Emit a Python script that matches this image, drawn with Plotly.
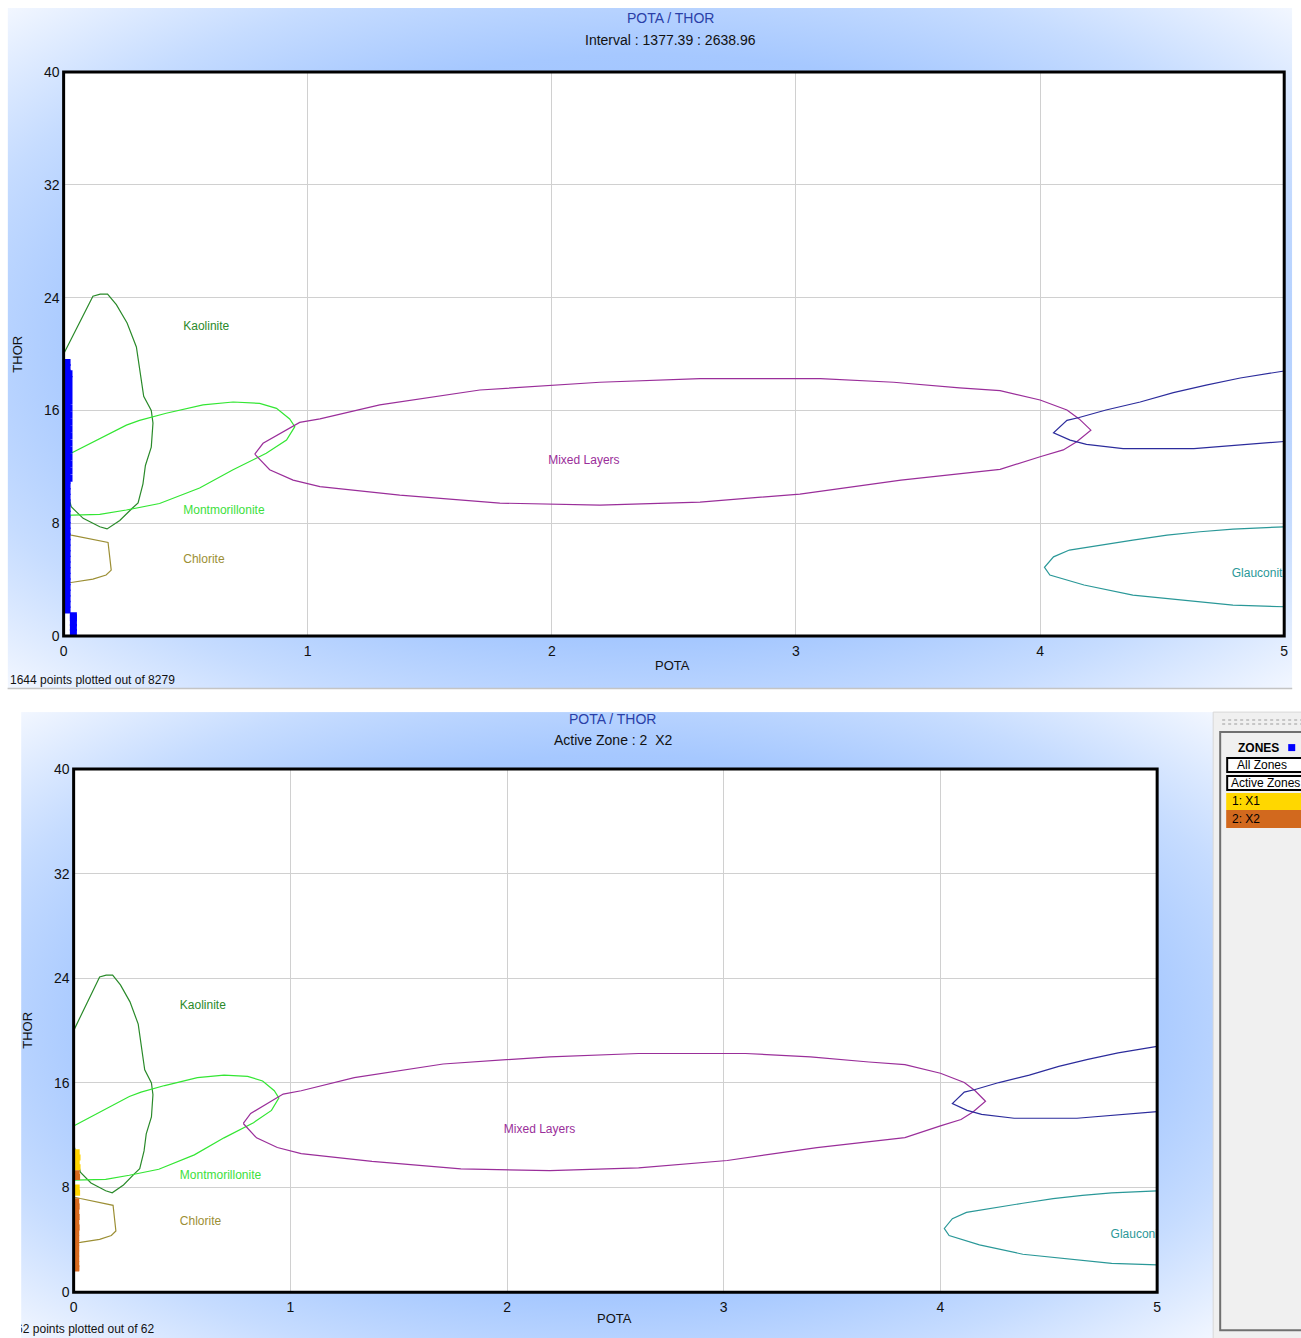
import base64
import plotly.graph_objects as go

# Page-to-figure mapping: positions below are given in screen pixels of the final page
# and converted to figure fractions through the measured offset/scale of the viewer.
SX, OX = 0.9934, 4.4
SY, OY = 0.988, 8.0
W, H = 1306, 1347
FONT = "Liberation Sans, Arial, sans-serif"

# ---- clay-mineral envelopes (POTA, THOR) ----
kaolinite_pota = [0.0, 0.06, 0.12, 0.15, 0.18, 0.216, 0.26, 0.298, 0.311, 0.328, 0.359, 0.366,
                  0.359, 0.335, 0.325, 0.305, 0.28, 0.23, 0.178, 0.148, 0.08, 0.031, 0.004, 0.0]
kaolinite_thor = [20.0, 22.1, 24.1, 24.25, 24.25, 23.5, 22.2, 20.5, 19.0, 17.0, 16.0, 15.1,
                  13.4, 12.1, 10.8, 9.45, 9.05, 8.2, 7.6, 7.75, 8.35, 9.17, 11.06, 11.3]

montmorillonite_pota = [0.0, 0.093, 0.257, 0.311, 0.42, 0.571, 0.694, 0.803, 0.872, 0.926, 0.947,
                        0.913, 0.83, 0.694, 0.557, 0.393, 0.257, 0.148, 0.0]
montmorillonite_thor = [12.7, 13.5, 14.96, 15.3, 15.8, 16.4, 16.6, 16.5, 16.15, 15.4, 14.85,
                        13.9, 12.96, 11.8, 10.5, 9.4, 8.94, 8.63, 8.56]

chlorite_pota = [0.0, 0.031, 0.182, 0.195, 0.174, 0.12, 0.031, 0.0]
chlorite_thor = [7.28, 7.16, 6.64, 4.68, 4.33, 4.04, 3.8, 3.78]

mixed_pota = [0.783, 0.817, 0.967, 1.05, 1.295, 1.705, 2.197, 2.607, 3.1, 3.4, 3.67, 3.836, 4.0,
              4.11, 4.16, 4.208, 4.15, 4.095, 4.0, 3.836, 3.43, 3.016, 2.607, 2.197, 1.787, 1.377,
              1.05, 0.94, 0.844, 0.803, 0.783]
mixed_thor = [12.9, 13.67, 15.15, 15.4, 16.4, 17.45, 18.0, 18.25, 18.25, 18.0, 17.6, 17.4, 16.74,
              16.03, 15.4, 14.6, 13.78, 13.2, 12.72, 11.82, 11.06, 10.07, 9.5, 9.29, 9.43, 10.0,
              10.6, 11.06, 11.8, 12.5, 12.9]

navy_pota = [5.0, 4.82, 4.68, 4.546, 4.41, 4.27, 4.16, 4.11, 4.055, 4.123, 4.19, 4.34, 4.63, 4.79, 4.93, 5.0]
navy_thor = [18.8, 18.3, 17.8, 17.26, 16.6, 16.03, 15.5, 15.3, 14.42, 13.9, 13.6, 13.3, 13.3, 13.5, 13.7, 13.8]

glauconite_pota = [5.0, 4.79, 4.655, 4.52, 4.38, 4.25, 4.12, 4.055, 4.018, 4.04, 4.18, 4.38, 4.6, 4.79, 5.0]
glauconite_thor = [7.75, 7.59, 7.4, 7.16, 6.8, 6.45, 6.1, 5.62, 4.87, 4.33, 3.62, 2.9, 2.55, 2.2, 2.08]

envelope_colors = ["#2a8a2a", "#33e633", "#9c8f35", "#9a2e9a", "#2c2c9c", "#2a9898"]

label_text = ["Kaolinite", "Montmorillonite", "Chlorite", "Mixed Layers", "Glauconite"]
label_pota = [0.49, 0.49, 0.49, 1.985, 4.785]
label_thor = [21.9, 8.9, 5.4, 12.4, 4.4]
label_colors = ["#2a8a2a", "#3ce03c", "#9c8f35", "#9a2e9a", "#2a9898"]

# ---- interval points (all zones) ----
interval_pota = [0.014] * 45 + [0.022] * 16 + [0.04] * 5
interval_thor = [1.85, 2.25, 2.65, 3.05, 3.45, 3.85, 4.25, 4.65, 5.05, 5.45, 5.85, 6.25, 6.65, 7.05,
                 7.45, 7.85, 8.25, 8.65, 9.05, 9.45, 9.85, 10.25, 10.65, 11.05, 11.45, 11.85, 12.25,
                 12.65, 13.05, 13.45, 13.85, 14.25, 14.65, 15.05, 15.45, 15.85, 16.25, 16.65, 17.05,
                 17.45, 17.85, 18.25, 18.65, 19.05, 19.4,
                 11.2, 11.7, 12.2, 12.7, 13.2, 13.7, 14.2, 14.7, 15.2, 15.7, 16.2, 16.7, 17.2, 17.7,
                 18.2, 18.6,
                 0.25, 0.6, 0.95, 1.3, 1.45]

# ---- active zone points ----
x1_pota = [0.014, 0.018, 0.014, 0.018, 0.014, 0.016]
x1_thor = [10.7, 10.3, 9.9, 9.55, 8.0, 7.6]
x2_pota = [0.014, 0.016, 0.012, 0.014, 0.012, 0.014, 0.012, 0.014, 0.012, 0.012, 0.012, 0.012,
           0.012, 0.012, 0.012, 0.012, 0.012]
x2_thor = [9.1, 8.8, 6.95, 6.55, 6.15, 5.75, 5.35, 4.95, 4.55, 4.15, 3.75, 3.35, 2.95, 2.55,
           2.15, 1.8, 1.85]

# plot areas in page pixels: (left, top, right, bottom)
top_area = (64, 72, 1284, 636)
bot_area = (74, 769, 1157, 1292)


def fx(px):
    return (px - OX) / SX / W


def fy(py):
    return 1 - (py - OY) / SY / H


def gradient_uri():
    svg = ('<svg xmlns="http://www.w3.org/2000/svg" width="100" height="100" viewBox="0 0 100 100" '
           'preserveAspectRatio="none"><defs><radialGradient id="g" cx="0.5" cy="0.5" r="0.72">'
           '<stop offset="0" stop-color="#8ab6ff"/><stop offset="0.6" stop-color="#a6c8ff"/>'
           '<stop offset="0.78" stop-color="#c6dcff"/>'
           '<stop offset="1" stop-color="#f6f9ff"/></radialGradient></defs>'
           '<rect width="100" height="100" fill="url(#g)"/></svg>')
    return "data:image/svg+xml;base64," + base64.b64encode(svg.encode()).decode()


fig = go.Figure()

envelopes = [
    (kaolinite_pota, kaolinite_thor),
    (montmorillonite_pota, montmorillonite_thor),
    (chlorite_pota, chlorite_thor),
    (mixed_pota, mixed_thor),
    (navy_pota, navy_thor),
    (glauconite_pota, glauconite_thor),
]

for xa, ya in (("x", "y"), ("x2", "y2")):
    for (px_, ty), col in zip(envelopes, envelope_colors):
        fig.add_trace(go.Scatter(x=px_, y=ty, mode="lines", xaxis=xa, yaxis=ya,
                                 line=dict(color=col, width=1.2), hoverinfo="skip",
                                 showlegend=False))
    for t, p, th, c in zip(label_text, label_pota, label_thor, label_colors):
        fig.add_trace(go.Scatter(x=[p], y=[th], mode="text", text=[t], xaxis=xa, yaxis=ya,
                                 textposition="middle right", cliponaxis=True,
                                 textfont=dict(family=FONT, size=12, color=c),
                                 showlegend=False, hoverinfo="skip"))

fig.add_trace(go.Scatter(x=interval_pota, y=interval_thor, mode="markers", xaxis="x", yaxis="y",
                         marker=dict(symbol="square", size=7, color="#0000ff", line=dict(width=0)),
                         showlegend=False))
fig.add_trace(go.Scatter(x=x1_pota, y=x1_thor, mode="markers", xaxis="x2", yaxis="y2",
                         marker=dict(symbol="square", size=6, color="#ffd400", line=dict(width=0)),
                         showlegend=False))
fig.add_trace(go.Scatter(x=x2_pota, y=x2_thor, mode="markers", xaxis="x2", yaxis="y2",
                         marker=dict(symbol="square", size=6, color="#d86a1e", line=dict(width=0)),
                         showlegend=False))

# footer of the second panel, clipped at the panel's left edge
fig.add_trace(go.Scatter(x=[-5], y=[0.5], mode="text", text=["62 points plotted out of 62"],
                         xaxis="x3", yaxis="y3", textposition="middle right", cliponaxis=True,
                         textfont=dict(family=FONT, size=12, color="#111111"),
                         showlegend=False, hoverinfo="skip"))

axis_common = dict(showgrid=True, gridcolor="#d0d0d0", gridwidth=1, zeroline=False,
                   showline=False, ticks="", tickfont=dict(family=FONT, size=14, color="#111111"),
                   fixedrange=True)
hidden = dict(visible=False, showgrid=False, zeroline=False, fixedrange=True)

fig.update_layout(
    width=W, height=H, autosize=False,
    margin=dict(l=0, r=0, t=0, b=0),
    paper_bgcolor="white", plot_bgcolor="rgba(0,0,0,0)",
    xaxis=dict(domain=[fx(top_area[0]), fx(top_area[2])], range=[0, 5], dtick=1, anchor="y",
               ticklabelstandoff=5, **axis_common),
    yaxis=dict(domain=[fy(top_area[3]), fy(top_area[1])], range=[0, 40], dtick=8, anchor="x",
               ticklabelstandoff=3, **axis_common),
    xaxis2=dict(domain=[fx(bot_area[0]), fx(bot_area[2])], range=[0, 5], dtick=1, anchor="y2",
                ticklabelstandoff=5, **axis_common),
    yaxis2=dict(domain=[fy(bot_area[3]), fy(bot_area[1])], range=[0, 40], dtick=8, anchor="x2",
                ticklabelstandoff=3, **axis_common),
    xaxis3=dict(domain=[fx(21.5), fx(400)], range=[0, 378.5], anchor="y3", **hidden),
    yaxis3=dict(domain=[fy(1338), fy(1322)], range=[0, 1], anchor="x3", **hidden),
)

# gradient backdrops behind each panel
grad = gradient_uri()
fig.add_layout_image(source=grad, xref="paper", yref="paper", x=fx(8), y=fy(8),
                     sizex=fx(1292) - fx(8), sizey=fy(8) - fy(688), xanchor="left", yanchor="top",
                     sizing="stretch", layer="below")
fig.add_layout_image(source=grad, xref="paper", yref="paper", x=fx(21.5), y=fy(712),
                     sizex=fx(1213) - fx(21.5), sizey=fy(712) - fy(1340), xanchor="left",
                     yanchor="top", sizing="stretch", layer="below")

shapes = []
# white plot areas and their frames
for xr, yr in (("x domain", "y domain"), ("x2 domain", "y2 domain")):
    shapes.append(dict(type="rect", xref=xr, yref=yr, x0=0, x1=1, y0=0, y1=1,
                       fillcolor="#ffffff", line=dict(width=0), layer="below"))
    shapes.append(dict(type="rect", xref=xr, yref=yr, x0=0, x1=1, y0=0, y1=1,
                       line=dict(color="#000000", width=3), layer="above"))
# separator under the first panel
shapes.append(dict(type="line", xref="paper", yref="paper", x0=fx(8), x1=fx(1292), y0=fy(688.5),
                   y1=fy(688.5), line=dict(color="#c4c4c4", width=1.5)))

# zones side panel
shapes.append(dict(type="rect", xref="paper", yref="paper", x0=fx(1213), x1=fx(1310), y0=fy(712),
                   y1=fy(1345), fillcolor="#f0f0f0", line=dict(color="#d8d8d8", width=1)))
for yy in (720, 724):
    shapes.append(dict(type="line", xref="paper", yref="paper", x0=fx(1222), x1=fx(1301),
                       y0=fy(yy), y1=fy(yy), line=dict(color="#b8b8b8", width=1.5, dash="dot")))
shapes.append(dict(type="rect", xref="paper", yref="paper", x0=fx(1220), x1=fx(1310), y0=fy(732),
                   y1=fy(1330), fillcolor="#f0f0f0", line=dict(color="#707070", width=2)))
shapes.append(dict(type="rect", xref="paper", yref="paper", x0=fx(1288), x1=fx(1295), y0=fy(744),
                   y1=fy(751), fillcolor="#0000ff", line=dict(width=0)))
shapes.append(dict(type="rect", xref="paper", yref="paper", x0=fx(1227), x1=fx(1310), y0=fy(758),
                   y1=fy(772), fillcolor="#ffffff", line=dict(color="#000000", width=2)))
shapes.append(dict(type="rect", xref="paper", yref="paper", x0=fx(1227), x1=fx(1310), y0=fy(776),
                   y1=fy(790), fillcolor="#ffffff", line=dict(color="#000000", width=2)))
shapes.append(dict(type="rect", xref="paper", yref="paper", x0=fx(1226), x1=fx(1310), y0=fy(793),
                   y1=fy(810), fillcolor="#ffd700", line=dict(width=0)))
shapes.append(dict(type="rect", xref="paper", yref="paper", x0=fx(1226), x1=fx(1310), y0=fy(810),
                   y1=fy(828), fillcolor="#d2691e", line=dict(width=0)))
fig.update_layout(shapes=shapes)


def note(text, x, y, size=13, color="#111111", xanchor="center", bold=False, angle=0):
    if bold:
        text = "<b>" + text + "</b>"
    fig.add_annotation(text=text, x=fx(x), y=fy(y), xref="paper", yref="paper", showarrow=False,
                       xanchor=xanchor, yanchor="middle", textangle=angle,
                       font=dict(family=FONT, size=size, color=color))


# first panel texts
note("POTA / THOR", 671, 18, size=14, color="#2a3fa8")
note("Interval : 1377.39 : 2638.96", 671, 40, size=14)
note("POTA", 673, 665, size=13)
note("THOR", 17, 354, size=13, angle=-90)
note("1644 points plotted out of 8279", 8, 680, size=12, xanchor="left")

# second panel texts
note("POTA / THOR", 613, 719, size=14, color="#2a3fa8")
note("Active Zone : 2  X2", 613, 740, size=14)
note("POTA", 615, 1318, size=13)
note("THOR", 28, 1030, size=13, angle=-90)

# zones panel texts
note("ZONES", 1236, 748, size=12, xanchor="left", bold=True, color="#000000")
note("All Zones", 1235, 765, size=12, xanchor="left", color="#000000")
note("Active Zones", 1229, 783, size=12, xanchor="left", color="#000000")
note("1: X1", 1230, 801, size=12, xanchor="left", color="#000000")
note("2: X2", 1230, 819, size=12, xanchor="left", color="#000000")

fig.write_html("out.html")
